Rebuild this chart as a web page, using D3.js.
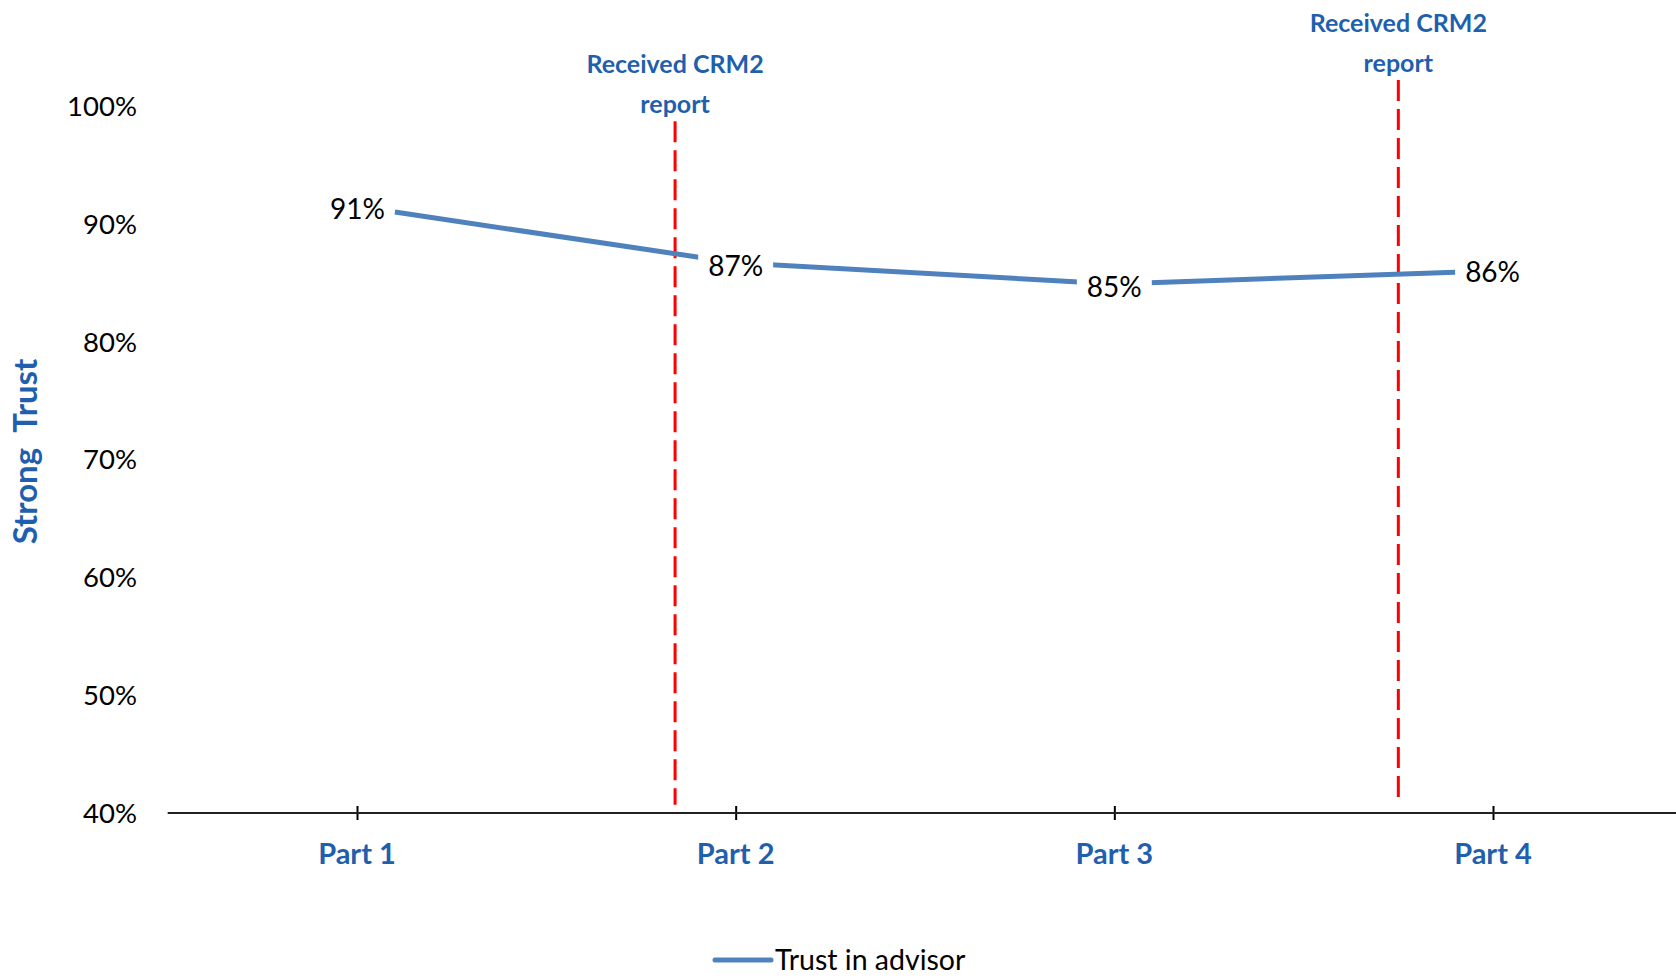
<!DOCTYPE html>
<html>
<head>
<meta charset="utf-8">
<script src="https://cdn.jsdelivr.net/npm/d3@7"></script>
<style>
  html, body { margin: 0; padding: 0; background: #fff; }
  svg { display: block; }
  text { font-family: Lato, "Open Sans", sans-serif; }
</style>
</head>
<body>
<svg id="chart" width="1676" height="978"></svg>
<script>
// ---- data ----
const categories = ["Part 1", "Part 2", "Part 3", "Part 4"];
const categoryPos = [1, 2, 3, 4];
const pointPos = [1.1, 2, 3, 3.9];
const trustValues = [0.910, 0.867, 0.849, 0.859];
const trustLabels = ["91%", "87%", "85%", "86%"];
const yTicks = [0.4, 0.5, 0.6, 0.7, 0.8, 0.9, 1.0];
const markerPos = [1.84, 3.75];
const markerTop = [0.987, 1.022];
const markerBottom = [0.407, 0.407];
const markerText = [["Received CRM2", "report"], ["Received CRM2", "report"]];
const seriesName = "Trust in advisor";
const yTitle = "Strong  Trust";

// ---- layout ----
const W = 1676, H = 978;
const svg = d3.select("#chart");
const blue = "#1F5FAD";
const lineColor = "#4F81BD";

const x = d3.scaleLinear().domain([1, 4]).range([357, 1493]);
const y = d3.scaleLinear().domain([0.4, 1.0]).range([813, 106]);

// y tick labels
svg.append("g").selectAll("text").data(yTicks).join("text")
  .attr("x", 137).attr("y", d => y(d)).attr("dy", "0.36em")
  .attr("text-anchor", "end").attr("font-size", 27.5).attr("fill", "#000")
  .text(d => d3.format(".0%")(d));

// y title
svg.append("text")
  .attr("transform", `translate(37, ${(y(0.4)+y(1.0))/2 - 8}) rotate(-90)`)
  .attr("text-anchor", "middle").attr("font-size", 33).attr("font-weight", "bold")
  .attr("xml:space", "preserve").style("white-space", "pre")
  .attr("fill", blue).text(yTitle);

// x axis
const xAxis = d3.axisBottom(x).tickValues(categoryPos).tickSize(0).tickFormat("");
const gx = svg.append("g").attr("transform", `translate(0, ${y(0.4)})`).call(xAxis);
gx.select(".domain").remove();
gx.append("line").attr("x1", x(0.5)).attr("x2", W).attr("y1", 0).attr("y2", 0)
  .attr("stroke", "#222").attr("stroke-width", 2);
gx.selectAll(".tick").append("line").attr("y1", -7).attr("y2", 7)
  .attr("stroke", "#000").attr("stroke-width", 2);
svg.append("g").selectAll("text").data(categories).join("text")
  .attr("x", (d, i) => x(categoryPos[i])).attr("y", y(0.4) + 41).attr("dy", "0.36em")
  .attr("text-anchor", "middle").attr("font-size", 29).attr("font-weight", "bold")
  .attr("fill", blue).text(d => d);

// red dashed marker lines
svg.append("g").selectAll("line").data(markerPos).join("line")
  .attr("x1", d => x(d)).attr("x2", d => x(d))
  .attr("y1", (d, i) => y(markerTop[i])).attr("y2", (d, i) => y(markerBottom[i]))
  .attr("stroke", "#FF0000").attr("stroke-width", 3).attr("stroke-dasharray", "21 8");

// marker annotations
markerPos.forEach((p, i) => {
  const t = svg.append("text").attr("text-anchor", "middle")
    .attr("font-size", 25).attr("font-weight", "bold").attr("fill", blue);
  const top = y(markerTop[i]) - 57;
  markerText[i].forEach((s, j) => {
    t.append("tspan").attr("x", x(p)).attr("y", top + j * 40).attr("dy", "0.36em").text(s);
  });
});

// series line
const pts = trustValues.map((v, i) => [x(pointPos[i]), y(v)]);
svg.append("path").datum(pts)
  .attr("d", d3.line())
  .attr("fill", "none").attr("stroke", lineColor).attr("stroke-width", 5);

// data labels
const lblG = svg.append("g");
pts.forEach((p, i) => {
  let anchor = "middle", lx = p[0], ly = p[1] + 3;
  if (i === 0) { anchor = "end"; lx = p[0] - 10; ly = p[1] - 3; }
  if (i === pts.length - 1) { anchor = "start"; lx = p[0] + 10; ly = p[1]; }
  const t = lblG.append("text").attr("x", lx).attr("y", ly).attr("dy", "0.36em")
    .attr("text-anchor", anchor).attr("font-size", 28).attr("fill", "#000")
    .text(trustLabels[i]);
  if (anchor === "middle") {
    const bb = t.node().getBBox();
    lblG.insert("rect", "text").attr("x", bb.x - 10).attr("y", bb.y).attr("width", bb.width + 20)
      .attr("height", bb.height).attr("fill", "#fff");
  }
});

// legend
const lg = svg.append("g").attr("transform", `translate(715, 960)`);
lg.append("line").attr("x1", 0).attr("x2", 56).attr("y1", 0).attr("y2", 0)
  .attr("stroke", lineColor).attr("stroke-width", 5).attr("stroke-linecap", "round");
lg.append("text").attr("x", 60).attr("y", 0).attr("dy", "0.36em")
  .attr("font-size", 28.5).attr("fill", "#000").text(seriesName);
</script>
</body>
</html>
